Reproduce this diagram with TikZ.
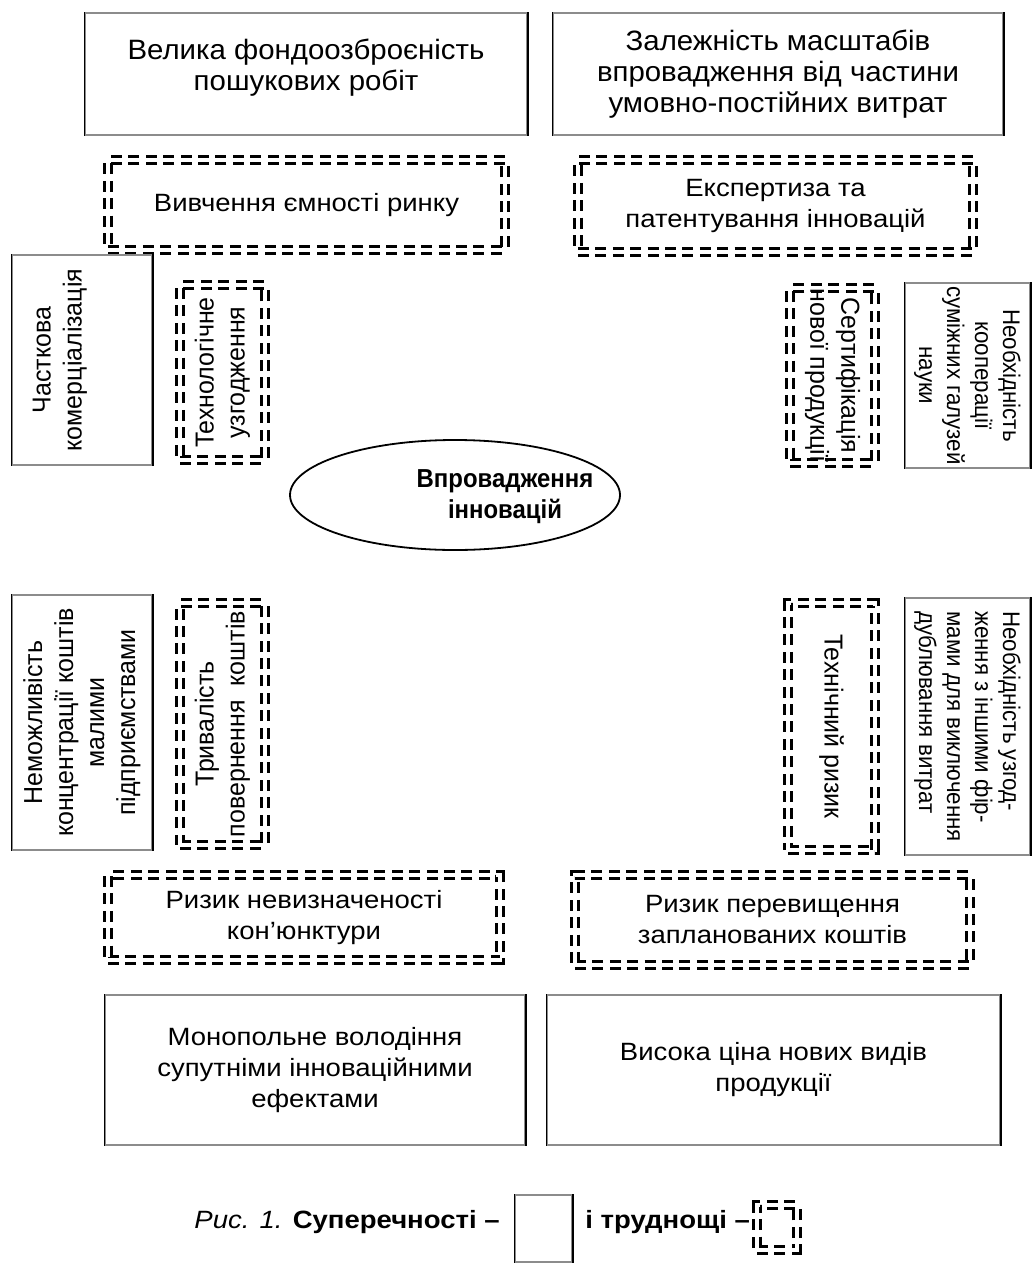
\documentclass[tikz,border=0pt]{standalone}
\usepackage{fontspec}
\setmainfont{Liberation Sans}[FakeStretch=1.1]
\newfontfamily\narrowfont{Liberation Sans}[FakeStretch=1.05]
\newfontfamily\vfont{Liberation Sans}[FakeStretch=0.96]
\newfontfamily\rfont{Liberation Sans}[FakeStretch=0.93]
\newfontfamily\boldfont{Liberation Sans Bold}[FakeStretch=0.92]
\usetikzlibrary{fit,shapes.geometric}
\tikzset{
  vline/.style={draw=black, line width=0.9pt},
  sbox/.style={rectangle, draw=black!45, line width=0.6pt, inner sep=0pt,
    append after command={(\tikzlastnode.north west) edge[vline] (\tikzlastnode.south west)
                          (\tikzlastnode.north east) edge[vline] (\tikzlastnode.south east)}},
  dbox/.style={rectangle, draw=black, line width=1.25pt, double=white, double distance=2.4pt, dash pattern=on 5.5pt off 3.2pt, inner sep=0pt},
  txt/.style={align=center, inner sep=0pt, font=\fontsize{12.5}{15.5}\selectfont},
  ntxt/.style={align=center, inner sep=0pt, font=\narrowfont\fontsize{14}{15.5}\selectfont},
  vtxt/.style={align=center, inner sep=0pt, font=\vfont\fontsize{13}{15.5}\selectfont},
  rtxt/.style={align=center, inner sep=0pt, font=\rfont\fontsize{12}{14}\selectfont},
  oval/.style={ellipse, draw=black, line width=0.9pt, inner sep=0pt, minimum width=165pt, minimum height=55pt},
}
\begin{document}
\begin{tikzpicture}[x=0.5pt,y=-0.5pt]
\fill[white] (0,0) rectangle (1035,1274);
\useasboundingbox (0,0) rectangle (1035,1274);

% top solid boxes
\node[sbox, fit={(85,13) (527,135)}] (tl) {};
\node[ntxt] (tlt) at (306,68) {Велика фондоозброєність\\пошукових робіт};
\node[sbox, fit={(553,13) (1003,135)}] (tr) {};
\node[ntxt] (trt) at (tr.center) {Залежність масштабів\\впровадження від частини\\умовно-постійних витрат};

% second row dashed
\node[dbox, fit={(108,160) (505,250)}] (d1) {};
\node[txt] (d1t) at (d1.center) {Вивчення ємності ринку};
\node[dbox, fit={(578,160) (973,252)}] (d2) {};
\node[txt] (d2t) at (d2.center) {Експертиза та\\патентування інновацій};

% upper vertical row
\node[sbox, fit={(12,255) (152,465)}] (s1) {};
\node[vtxt, rotate=90] (s1t) at (60,360) {Часткова\\комерціалізація};
\node[dbox, fit={(180,285) (265,460)}] (d3) {};
\node[vtxt, rotate=90] (d3t) at (d3.center) {Технологічне\\узгодження};
\node[dbox, fit={(790,288) (875,463)}] (d4) {};
\node[vtxt, rotate=-90] (d4t) at (d4.center) {Сертифікація\\нової продукції};
\node[sbox, fit={(905,283) (1030,468)}] (s2) {};
\node[rtxt, rotate=-90] (s2t) at (s2.center) {Необхідність\\кооперації\\суміжних галузей\\науки};

% centre
\node[oval] (c) at (455,495) {};
\node[align=center, inner sep=0pt, font=\boldfont\fontsize{13}{15.5}\selectfont] (ct) at (505,497) {Впровадження\\інновацій};

% lower vertical row
\node[sbox, fit={(12,595) (152,850)}] (s3) {};
\node[vtxt, rotate=90] (s3t) at (s3.center) {Неможливість\\концентрації коштів\\малими\\підприємствами};
\node[dbox, fit={(180,603) (265,845)}] (d5) {};
\node[vtxt, rotate=90] (d5t) at (d5.center) {Тривалість\\повернення\ \ коштів};
\node[dbox, fit={(788,603) (875,850)}] (d6) {};
\node[vtxt, rotate=-90] (d6t) at (d6.center) {Технічний ризик};
\node[sbox, fit={(905,598) (1030,855)}] (s4) {};
\node[rtxt, rotate=-90, align=left] (s4t) at (s4.center) {Необхідність узгод-\\ження з іншими фір-\\мами для виключення\\дублювання витрат};

% lower dashed row
\node[dbox, fit={(108,875) (500,960)}] (d7) {};
\node[txt] (d7t) at (d7.center) {Ризик невизначеності\\кон'юнктури};
\node[dbox, fit={(575,875) (970,965)}] (d8) {};
\node[txt] (d8t) at (d8.center) {Ризик перевищення\\запланованих коштів};

% bottom solid boxes
\node[sbox, fit={(105,995) (525,1145)}] (s5) {};
\node[txt] (s5t) at (s5.center) {Монопольне володіння\\супутніми інноваційними\\ефектами};
\node[sbox, fit={(547,995) (1000,1145)}] (s6) {};
\node[txt] (s6t) at (s6.center) {Висока ціна нових видів\\продукції};

% caption / legend
\node[txt, anchor=base east] (cap1) at (500,1228) {\textit{Рис. 1.} \textbf{Суперечності –}};
\node[sbox, fit={(515,1195) (572,1262)}] (legs) {};
\node[txt, anchor=base west] (cap2) at (585,1228) {\textbf{і труднощі –}};
\node[dbox, fit={(757,1205) (797,1250)}] (legd) {};
\end{tikzpicture}
\end{document}
